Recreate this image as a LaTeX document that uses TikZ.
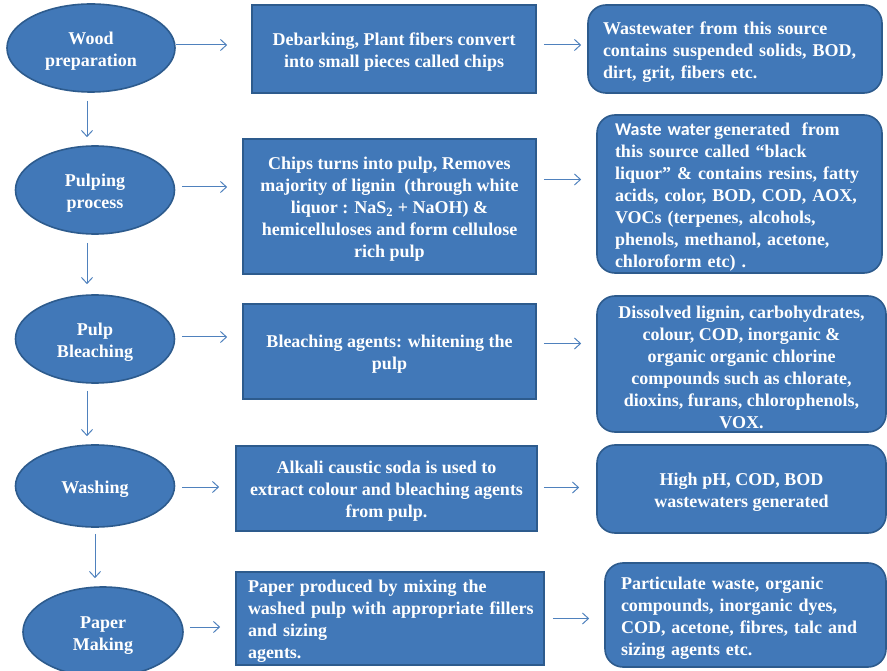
\documentclass[tikz,border=0pt]{standalone}
\usepackage{fontspec}
\setmainfont{Liberation Serif}
\newfontfamily\calib{Carlito}
\usetikzlibrary{shapes.geometric,arrows.meta}
\definecolor{boxfill}{HTML}{4178B8}
\definecolor{boxline}{HTML}{2D5B8D}
\definecolor{arrcol}{HTML}{4F81BD}
\newcommand{\tstr}{\rule{0pt}{18.5pt}}
\tikzset{
  base/.style={fill=boxfill,draw=boxline,line width=1.6pt,text=white,
    font=\fontsize{18}{22}\selectfont\bfseries,inner sep=0pt},
  ell/.style={base,ellipse,align=center},
  sbox/.style={base,rectangle,align=center},
  rbox/.style={base,rectangle,rounded corners=18pt,align=center}
}
\tikzset{arr/.style={draw=arrcol,line width=1pt,-{Straight Barb[length=6pt,width=11pt]}}}
\begin{document}
\begin{tikzpicture}[x=1pt,y=-1pt]
\useasboundingbox (0,0) rectangle (887,671);
% left column
\node[ell,minimum width=168pt,minimum height=88pt] (e1) at (91,48) {\tstr Wood\\preparation};
\node[ell,minimum width=159pt,minimum height=88pt] (e2) at (95,190) {\tstr Pulping\\process};
\node[ell,minimum width=159pt,minimum height=88pt] (e3) at (95,339) {\tstr Pulp\\Bleaching};
\node[ell,minimum width=159pt,minimum height=82pt] (e4) at (95,486) {\tstr Washing};
\node[ell,minimum width=160pt,minimum height=90pt] (e5) at (103,632) {\tstr Paper\\Making};
% middle column
\node[sbox,minimum width=284pt,minimum height=88pt] (b1) at (394,49)
  {\tstr Debarking, Plant fibers convert\\into small pieces called chips};
\node[sbox,minimum width=293pt,minimum height=135pt] (b2) at (389.5,206.5)
  {\tstr Chips turns into pulp, Removes\\majority of lignin\ \ (through white\\liquor : NaS\textsubscript{2} + NaOH) \&\\hemicelluloses and form cellulose\\rich pulp};
\node[sbox,minimum width=293pt,minimum height=95pt] (b3) at (389.5,351.5)
  {\tstr Bleaching agents: whitening the\\pulp};
\node[sbox,minimum width=301pt,minimum height=85pt] (b4) at (386.5,488.5)
  {\tstr Alkali caustic soda is used to\\extract colour and bleaching agents\\from pulp.};
\node[sbox,align=left,text width=284pt,minimum width=308pt,minimum height=93pt] (b5) at (390,618.5)
  {\tstr Paper produced by mixing the\\\mbox{washed pulp with appropriate fillers}\\and sizing\\agents.};
% right column
\node[rbox,align=left,text width=264pt,minimum width=294pt,minimum height=88pt] (r1) at (735,49)
  {\tstr Wastewater from this source\\contains suspended solids, BOD,\\dirt, grit, fibers etc.};
\node[rbox,align=left,text width=249pt,minimum width=285pt,minimum height=158pt] (r2) at (739.5,194)
  {\tstr{\calib Waste water}\,generated\ \ from\\this source called “black\\liquor” \& contains resins, fatty\\acids, color, BOD, COD, AOX,\\VOCs (terpenes, alcohols,\\phenols, methanol, acetone,\\chloroform etc) .};
\node[rbox,minimum width=289pt,minimum height=136pt] (r3) at (741.5,364)
  {\tstr Dissolved lignin, carbohydrates,\\colour, COD, inorganic \&\\organic organic chlorine\\compounds such as chlorate,\\dioxins, furans, chlorophenols,\\VOX.};
\node[rbox,minimum width=289pt,minimum height=88pt] (r4) at (741.5,489)
  {\tstr High pH, COD, BOD\\wastewaters generated};
\node[rbox,align=left,text width=249pt,minimum width=281pt,minimum height=104pt] (r5) at (745.5,615)
  {\tstr Particulate waste, organic\\compounds, inorganic dyes,\\COD, acetone, fibres, talc and\\sizing agents etc.};
% vertical arrows
\draw[arr,shorten <=8pt,shorten >=8pt] ([xshift=-4pt]e1.south) -- ([xshift=-8pt]e2.north);
\draw[arr,shorten <=8pt,shorten >=10pt] ([xshift=-8pt]e2.south) -- ([xshift=-8pt]e3.north);
\draw[arr,shorten <=7pt,shorten >=8pt] ([xshift=-8pt]e3.south) -- ([xshift=-8pt]e4.north);
\draw[arr,shorten <=6pt,shorten >=8pt] (e4.south) -- ([xshift=-8pt]e5.north);
% horizontal arrows
\draw[arr,shorten >=24pt] ([yshift=3pt]e1.east) -- ([yshift=3pt]e1.east -| b1.west);
\draw[arr,shorten <=7pt,shorten >=15pt] ([yshift=3pt]e2.east) -- ([yshift=3pt]e2.east -| b2.west);
\draw[arr,shorten <=7pt,shorten >=15pt] ([yshift=2pt]e3.east) -- ([yshift=2pt]e3.east -| b3.west);
\draw[arr,shorten <=7pt,shorten >=16pt] ([yshift=-1pt]e4.east) -- ([yshift=-1pt]e4.east -| b4.west);
\draw[arr,shorten <=6pt,shorten >=15pt] ([yshift=5pt]e5.east) -- ([yshift=5pt]e5.east -| b5.west);
\draw[arr,shorten <=7pt,shorten >=6pt] ([yshift=4pt]b1.east) -- ([yshift=4pt]b1.east -| r1.west);
\draw[arr,shorten <=7pt,shorten >=15pt] ([yshift=27pt]b2.east) -- ([yshift=27pt]b2.east -| r2.west);
\draw[arr,shorten <=7pt,shorten >=15pt] ([yshift=8pt]b3.east) -- ([yshift=8pt]b3.east -| r3.west);
\draw[arr,shorten <=6pt,shorten >=17pt] ([yshift=1pt]b4.east) -- ([yshift=1pt]b4.east -| r4.west);
\draw[arr,shorten <=8pt,shorten >=15pt] (b5.east) -- (b5.east -| r5.west);
\end{tikzpicture}
\end{document}
